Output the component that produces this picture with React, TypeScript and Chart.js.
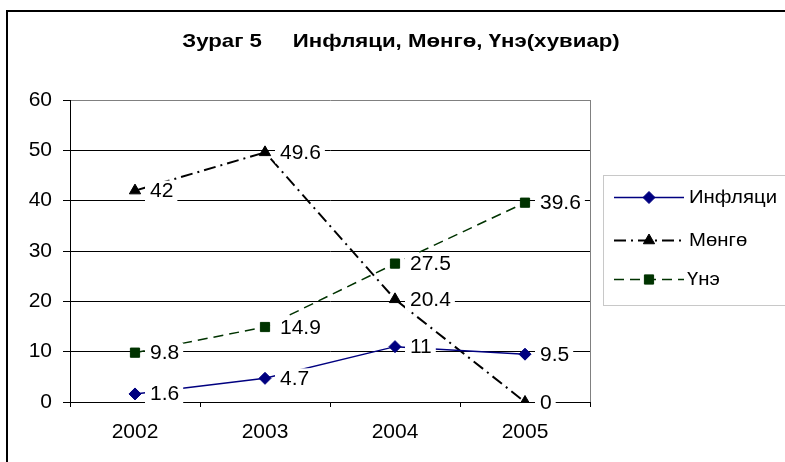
import React, { useEffect, useRef } from 'react';
import { Chart, registerables } from 'chart.js';

Chart.register(...registerables);

const years = ['2002', '2003', '2004', '2005'];
const inflation = [1.6, 4.7, 11, 9.5];
const money = [42, 49.6, 20.4, 0];
const price = [9.8, 14.9, 27.5, 39.6];
const seriesNames = ['Инфляци', 'Мөнгө', 'Үнэ'];
const yTicks = [0, 10, 20, 30, 40, 50, 60];
const titleText = 'Зураг 5     Инфляци, Мөнгө, Үнэ(хувиар)';

const FONT = '"Liberation Sans", Arial, sans-serif';

function drawMarker(ctx: CanvasRenderingContext2D, style: string, x: number, y: number, r: number, color: string) {
  ctx.save();
  ctx.setLineDash([]);
  ctx.fillStyle = color;
  ctx.strokeStyle = color;
  ctx.lineWidth = 1;
  ctx.beginPath();
  if (style === 'rectRot') {
    ctx.moveTo(x, y - r);
    ctx.lineTo(x + r, y);
    ctx.lineTo(x, y + r);
    ctx.lineTo(x - r, y);
  } else if (style === 'triangle') {
    let a = 0;
    ctx.moveTo(x + Math.sin(a) * r, y - Math.cos(a) * r);
    a += (2 * Math.PI) / 3;
    ctx.lineTo(x + Math.sin(a) * r, y - Math.cos(a) * r);
    a += (2 * Math.PI) / 3;
    ctx.lineTo(x + Math.sin(a) * r, y - Math.cos(a) * r);
  } else {
    const s = r / Math.SQRT2;
    ctx.rect(x - s, y - s, 2 * s, 2 * s);
  }
  ctx.closePath();
  ctx.fill();
  ctx.stroke();
  ctx.restore();
}

function stretchedText(ctx: CanvasRenderingContext2D, txt: string, x: number, y: number, sx: number) {
  ctx.save();
  ctx.translate(x, y);
  ctx.scale(sx, 1);
  ctx.fillText(txt, 0, 0);
  ctx.restore();
}

const decorPlugin = {
  id: 'excelDecor',
  beforeDraw(chart: any) {
    const ctx = chart.ctx as CanvasRenderingContext2D;
    ctx.save();
    ctx.fillStyle = '#ffffff';
    ctx.fillRect(0, 0, chart.width, chart.height);
    // outer chart frame
    ctx.strokeStyle = '#000000';
    ctx.lineWidth = 2;
    ctx.strokeRect(7, 11, chart.width + 20, chart.height + 20);
    // title
    ctx.fillStyle = '#000000';
    ctx.font = `bold 19px ${FONT}`;
    ctx.textAlign = 'center';
    ctx.textBaseline = 'alphabetic';
    stretchedText(ctx, titleText, 401, 47, 1.17);
    ctx.restore();
  },
  beforeDatasetsDraw(chart: any) {
    const ctx = chart.ctx as CanvasRenderingContext2D;
    const a = chart.chartArea;
    ctx.save();
    ctx.strokeStyle = '#808080';
    ctx.lineWidth = 1;
    ctx.beginPath();
    ctx.moveTo(Math.round(a.right) + 0.5, a.top);
    ctx.lineTo(Math.round(a.right) + 0.5, a.bottom);
    ctx.stroke();
    ctx.restore();
  },
  afterDatasetsDraw(chart: any) {
    const ctx = chart.ctx as CanvasRenderingContext2D;
    ctx.save();
    ctx.font = `20px ${FONT}`;
    const sx = 1.05;
    chart.data.datasets.forEach((ds: any, i: number) => {
      const meta = chart.getDatasetMeta(i);
      meta.data.forEach((pt: any, j: number) => {
        const txt = String(ds.data[j]);
        const w = ctx.measureText(txt).width * sx;
        const x = pt.x + 15;
        const y = pt.y;
        ctx.fillStyle = '#ffffff';
        ctx.fillRect(x - 5, y - 10, w + 9, 21);
        ctx.fillStyle = '#000000';
        ctx.textAlign = 'left';
        ctx.textBaseline = 'middle';
        stretchedText(ctx, txt, x, y + 1, sx);
      });
    });
    ctx.restore();
  },
  afterDraw(chart: any) {
    const ctx = chart.ctx as CanvasRenderingContext2D;
    ctx.save();
    // legend frame (dotted)
    ctx.strokeStyle = '#909090';
    ctx.lineWidth = 1;
    ctx.setLineDash([1, 1]);
    ctx.strokeRect(603.5, 175.5, 220, 130);
    const ys = [197, 240, 279];
    chart.data.datasets.forEach((ds: any, i: number) => {
      const y = ys[i] + 0.5;
      ctx.save();
      ctx.strokeStyle = ds.borderColor;
      ctx.lineWidth = ds.borderWidth;
      ctx.setLineDash(ds.borderDash || []);
      ctx.beginPath();
      ctx.moveTo(614, y);
      ctx.lineTo(684, y);
      ctx.stroke();
      ctx.restore();
      drawMarker(ctx, ds.pointStyle, 649, y, ds.pointRadius, ds.backgroundColor);
      ctx.fillStyle = '#000000';
      ctx.font = `19px ${FONT}`;
      ctx.textAlign = 'left';
      ctx.textBaseline = 'middle';
      stretchedText(ctx, ds.label, i === 2 ? 687 : 689, ys[i] + 1, 1.07);
    });
    ctx.restore();
  },
};

export default function App() {
  const ref = useRef<HTMLCanvasElement | null>(null);

  useEffect(() => {
    if (!ref.current) return;
    const chart = new Chart(ref.current, {
      type: 'line',
      data: {
        labels: years,
        datasets: [
          {
            label: seriesNames[0],
            data: inflation,
            borderColor: '#000080',
            backgroundColor: '#000080',
            borderWidth: 1.5,
            pointStyle: 'rectRot',
            pointRadius: 6,
            pointBorderWidth: 1,
            tension: 0,
          },
          {
            label: seriesNames[1],
            data: money,
            borderColor: '#000000',
            backgroundColor: '#000000',
            borderWidth: 2,
            borderDash: [12, 5, 2, 5],
            pointStyle: 'triangle',
            pointRadius: 6.5,
            pointBorderWidth: 1,
            tension: 0,
          },
          {
            label: seriesNames[2],
            data: price,
            borderColor: '#003300',
            backgroundColor: '#003300',
            borderWidth: 1.5,
            borderDash: [10, 6],
            pointStyle: 'rect',
            pointRadius: 6.5,
            pointBorderWidth: 1,
            tension: 0,
          },
        ],
      },
      options: {
        responsive: false,
        animation: false,
        events: [],
        layout: { padding: { top: 100, right: 195, left: 0, bottom: 0 } },
        plugins: {
          legend: { display: false },
          tooltip: { enabled: false },
          title: { display: false },
        },
        scales: {
          x: {
            type: 'category',
            offset: true,
            grid: {
              display: true,
              drawOnChartArea: false,
              offset: true,
              tickLength: 5,
              tickColor: '#000000',
              tickWidth: 1,
            },
            border: { display: true, color: '#000000', width: 1 },
            ticks: {
              color: '#000000',
              font: { family: FONT, size: 21 },
              padding: 13,
              maxRotation: 0,
              autoSkip: false,
            },
            afterFit: (s: any) => {
              s.height = 60;
            },
          },
          y: {
            min: 0,
            max: 60,
            afterBuildTicks: (s: any) => {
              s.ticks = yTicks.map((v) => ({ value: v }));
            },
            grid: {
              color: (c: any) => (c.tick && c.tick.value === 60 ? '#808080' : '#000000'),
              tickColor: '#000000',
              tickLength: 7,
              lineWidth: 1,
            },
            border: { display: true, color: '#000000', width: 1 },
            ticks: {
              color: '#000000',
              font: { family: FONT, size: 21 },
              padding: 11,
            },
            afterFit: (s: any) => {
              s.width = 70;
            },
          },
        },
      },
      plugins: [decorPlugin],
    } as any);
    return () => chart.destroy();
  }, []);

  return (
    <div style={{ position: 'absolute', left: 0, top: 0, width: 785, height: 462, background: '#fff' }}>
      <canvas ref={ref} width={785} height={462} style={{ display: 'block', width: 785, height: 462 }} />
    </div>
  );
}
